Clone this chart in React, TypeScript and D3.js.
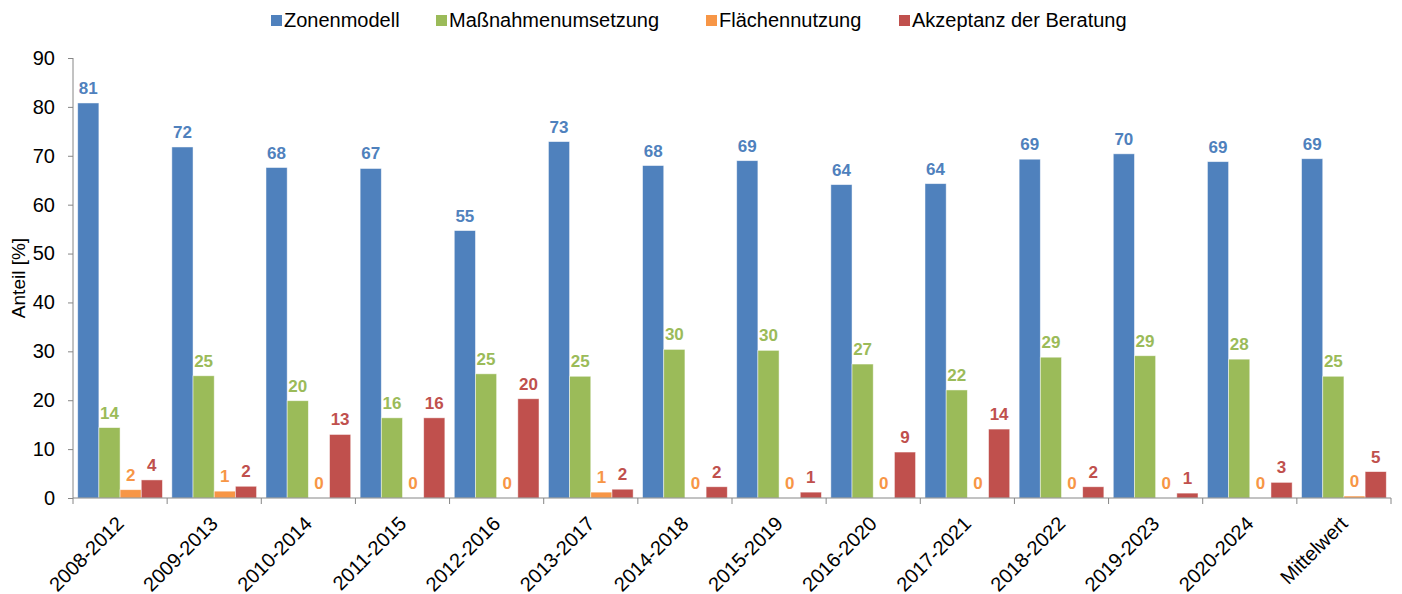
import * as d3 from "d3";
import { useEffect, useRef } from "react";

const CATEGORIES = [
  "2008-2012", "2009-2013", "2010-2014", "2011-2015", "2012-2016", "2013-2017", "2014-2018",
  "2015-2019", "2016-2020", "2017-2021", "2018-2022", "2019-2023", "2020-2024", "Mittelwert",
];

const SERIES = ["Zonenmodell", "Maßnahmenumsetzung", "Flächennutzung", "Akzeptanz der Beratung"];

const zonenmodell = [80.8, 71.8, 67.6, 67.4, 54.7, 72.9, 68.0, 69.0, 64.1, 64.3, 69.3, 70.4, 68.8, 69.4];
const massnahmen = [14.4, 25.0, 19.9, 16.4, 25.4, 24.9, 30.4, 30.2, 27.4, 22.1, 28.8, 29.1, 28.4, 24.9];
const flaechen = [1.7, 1.4, 0, 0, 0, 1.2, 0, 0, 0, 0, 0, 0, 0, 0.4];
const akzeptanz = [3.7, 2.4, 13.0, 16.4, 20.3, 1.8, 2.3, 1.2, 9.4, 14.1, 2.3, 1.0, 3.2, 5.4];

const Y_TICKS = [0, 10, 20, 30, 40, 50, 60, 70, 80, 90];

const COLORS = ["#4F81BD", "#9BBB59", "#F79646", "#C0504D"];
const FONT = "'Liberation Sans', Arial, sans-serif";

const WIDTH = 1402;
const HEIGHT = 594;
const margin = { top: 58, right: 11, bottom: 96, left: 73 };

export default function App() {
  const svgRef = useRef<SVGSVGElement | null>(null);

  useEffect(() => {
    if (!svgRef.current) return;
    const svg = d3.select(svgRef.current);
    svg.selectAll("*").remove();

    const values = [zonenmodell, massnahmen, flaechen, akzeptanz];
    const innerW = WIDTH - margin.left - margin.right;
    const innerH = HEIGHT - margin.top - margin.bottom;

    const x = d3.scaleBand<string>().domain(CATEGORIES).range([0, innerW]).paddingInner(0.1).paddingOuter(0.05);
    const xs = d3.scaleBand<number>().domain(d3.range(SERIES.length)).range([0, x.bandwidth()]);
    const y = d3.scaleLinear().domain([0, 90]).range([innerH, 0]);

    const g = svg.append("g").attr("transform", `translate(${margin.left},${margin.top})`);

    // y axis
    const yAxis = g
      .append("g")
      .call(d3.axisLeft(y).tickValues(Y_TICKS).tickSize(5).tickPadding(13).tickFormat(d3.format("d")));
    yAxis.select(".domain").attr("stroke", "#868686").attr("d", `M0,${innerH}V0`);
    yAxis.selectAll(".tick line").attr("stroke", "#868686");
    yAxis.selectAll("text").attr("font-family", FONT).attr("font-size", 20).attr("fill", "#000");

    // bars
    SERIES.forEach((_, si) => {
      const grp = g.append("g");
      grp
        .selectAll("rect")
        .data(values[si])
        .join("rect")
        .attr("x", (_, i) => (x(CATEGORIES[i]) as number) + (xs(si) as number))
        .attr("y", (d) => y(d))
        .attr("width", xs.bandwidth())
        .attr("height", (d) => innerH - y(d))
        .attr("fill", COLORS[si])
        .attr("stroke", "rgba(255,255,255,0.6)")
        .attr("stroke-width", 0.8);

      grp
        .selectAll("text")
        .data(values[si])
        .join("text")
        .attr("x", (_, i) => (x(CATEGORIES[i]) as number) + (xs(si) as number) + xs.bandwidth() / 2)
        .attr("y", (d) => y(d) - 9)
        .attr("text-anchor", "middle")
        .attr("font-family", FONT)
        .attr("font-size", 17)
        .attr("font-weight", "bold")
        .attr("fill", COLORS[si])
        .text((d) => Math.round(d));
    });

    // x axis
    const xAxisG = g.append("g").attr("transform", `translate(0,${innerH})`);
    xAxisG.append("line").attr("x1", 0).attr("x2", innerW).attr("stroke", "#868686");
    const step = x.step();
    const boundaries = d3.range(CATEGORIES.length + 1).map((i) => i * step);
    xAxisG
      .selectAll("line.tick")
      .data(boundaries)
      .join("line")
      .attr("class", "tick")
      .attr("x1", (d) => d)
      .attr("x2", (d) => d)
      .attr("y1", 0)
      .attr("y2", 6)
      .attr("stroke", "#868686");
    xAxisG
      .selectAll("text")
      .data(CATEGORIES)
      .join("text")
      .attr("transform", (d) => `translate(${(x(d) as number) + x.bandwidth() / 2 + 5},${27}) rotate(-45)`)
      .attr("text-anchor", "end")
      .attr("font-family", FONT)
      .attr("font-size", 20)
      .attr("fill", "#000")
      .text((d) => d);

    // y title
    svg
      .append("text")
      .attr("transform", `translate(25,${278}) rotate(-90)`)
      .attr("text-anchor", "middle")
      .attr("font-family", FONT)
      .attr("font-size", 19)
      .attr("fill", "#000")
      .text("Anteil [%]");

    // legend
    const legendX = [271, 436, 706, 899];
    const legend = svg
      .append("g")
      .selectAll("g")
      .data(SERIES)
      .join("g")
      .attr("transform", (_, i) => `translate(${legendX[i]},0)`);
    legend
      .append("rect")
      .attr("x", 0)
      .attr("y", 15)
      .attr("width", 11)
      .attr("height", 11)
      .attr("fill", (_, i) => COLORS[i]);
    legend
      .append("text")
      .attr("x", 13)
      .attr("y", 27)
      .attr("font-family", FONT)
      .attr("font-size", 20)
      .attr("fill", "#000")
      .text((d) => d);
  }, []);

  return (
    <svg
      ref={svgRef}
      width={WIDTH}
      height={HEIGHT}
      style={{ position: "absolute", left: 0, top: 0, background: "#fff" }}
    />
  );
}
